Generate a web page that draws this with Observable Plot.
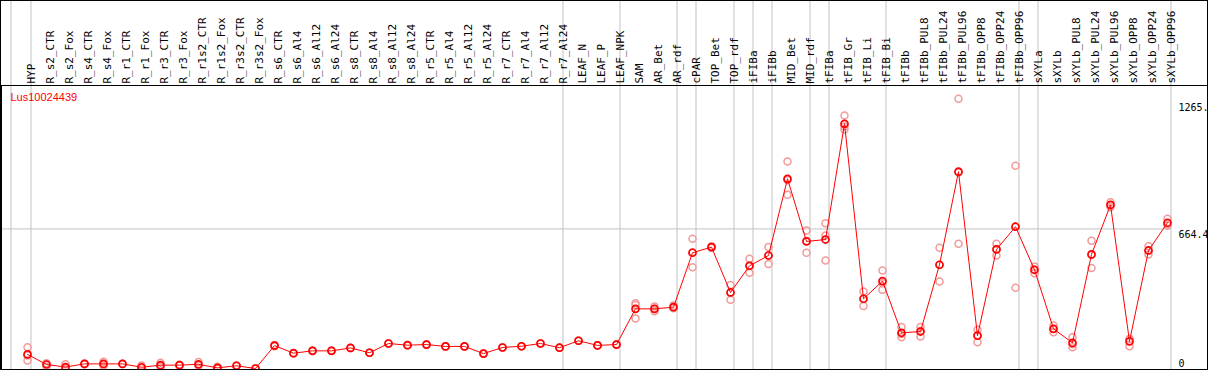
<!DOCTYPE html>
<html>
<head>
<meta charset="utf-8">
<script src="https://cdn.jsdelivr.net/npm/d3@7"></script>
<script src="https://cdn.jsdelivr.net/npm/@observablehq/plot@0.6"></script>
<style>
  html, body { margin: 0; padding: 0; background: #fff; }
  #chart svg { display: block; outline: 1px solid #000; outline-offset: -1px; background: #fff; }
</style>
</head>
<body>
<div id="chart"></div>
<script>
const geneName = "Lus10024439";

const categories = ["HYP","R_s2_CTR","R_s2_Fox","R_s4_CTR","R_s4_Fox","R_r1_CTR","R_r1_Fox","R_r3_CTR","R_r3_Fox","R_r1s2_CTR","R_r1s2_Fox","R_r3s2_CTR","R_r3s2_Fox","R_s6_CTR","R_s6_Al4","R_s6_Al12","R_s6_Al24","R_s8_CTR","R_s8_Al4","R_s8_Al12","R_s8_Al24","R_r5_CTR","R_r5_Al4","R_r5_Al12","R_r5_Al24","R_r7_CTR","R_r7_Al4","R_r7_Al12","R_r7_Al24","LEAF_N","LEAF_P","LEAF_NPK","SAM","AR_Bet","AR_rdf","cPAR","TOP_Bet","TOP_rdf","iFIBa","iFIBb","MID_Bet","MID_rdf","tFIBa","tFIB_Gr","tFIB_Li","tFIB_Bi","tFIBb","tFIBb_PUL8","tFIBb_PUL24","tFIBb_PUL96","tFIBb_OPP8","tFIBb_OPP24","tFIBb_OPP96","sXYLa","sXYLb","sXYLb_PUL8","sXYLb_PUL24","sXYLb_PUL96","sXYLb_OPP8","sXYLb_OPP24","sXYLb_OPP96"];

const meanValues = [67,19,7,22,22,22,6,16,16,20,3,13,0,109,73,84,84,98,75,119,111,114,105,105,71,100,106,119,99,132,110,114,284,284,292,551,578,362,489,538,903,605,614,1165,332,416,170,176,494,937,156,567,675,470,189,122,543,779,129,562,694];

const replicate1 = [101,22,20,24,32,22,14,27,18,31,8,14,0,112,73,84,84,98,75,119,111,114,105,105,71,100,106,119,99,132,110,114,311,295,300,618,582,398,522,578,986,657,692,1205,367,467,197,197,575,1284,184,594,965,486,205,149,608,792,141,582,713];
const replicate2 = [62,25,0,22,13,23,3,8,15,13,1,12,0,106,73,84,84,98,75,119,111,114,105,105,71,100,106,119,99,132,110,114,302,273,287,482,575,327,456,498,827,551,633,1138,297,375,149,152,414,594,125,538,384,454,173,101,479,768,106,543,681];
const replicate3 = [38,10,0,20,21,21,1,13,15,16,0,13,0,109,73,84,84,98,75,119,111,114,105,105,71,100,106,119,99,132,110,114,238,284,289,553,577,361,489,538,896,607,514,1152,332,406,164,179,493,933,159,569,676,470,189,116,542,777,140,561,688];

// last category of each tissue group (separator lines drawn after them)
const groupEnds = ["HYP","R_r7_Al24","LEAF_NPK","AR_rdf","cPAR","TOP_rdf","iFIBa","iFIBb","MID_rdf","tFIBa","tFIB_Bi","tFIBb_OPP96","sXYLa","sXYLb_OPP96"];

const yTickValues = [1265, 664.4];
const yTickLabels = ["1265.", "664.4"];
const yZeroLabel = "0";

const means = categories.map((c, i) => ({cat: c, value: meanValues[i]}));
const reps = categories.flatMap((c, i) => [replicate1[i], replicate2[i], replicate3[i]].map(v => ({cat: c, value: v})));
const ticks = yTickValues.map((v, i) => ({value: v, label: yTickLabels[i]}));

const mono = "DejaVu Sans Mono, monospace";

const chart = Plot.plot({
  width: 1208,
  height: 370,
  marginTop: 85,
  marginBottom: 1,
  marginLeft: 1,
  marginRight: 1,
  x: {type: "point", domain: categories, range: [26.5, 1166.5], padding: 0, axis: null},
  y: {domain: [0, 1265], range: [368, 102.3], axis: null},
  style: {background: "#fff"},
  marks: [
    Plot.ruleX(groupEnds, {x: d => d, dx: 3.5, stroke: "#c3c3c3", strokeWidth: 1, insetTop: -84}),
    Plot.ruleX([categories[0]], {x: d => d, dx: -16.5, stroke: "#c3c3c3", strokeWidth: 1, insetTop: -84}),
    Plot.ruleY([yTickValues[1]], {y: d => d, stroke: "#c3c3c3", strokeWidth: 1, insetRight: 36}),
    Plot.frame({stroke: "#000", strokeWidth: 1}),
    Plot.text(categories, {
      x: d => d, text: d => d, frameAnchor: "top", dy: -2, rotate: -90,
      textAnchor: "start", fontFamily: mono, fontSize: 11, fill: "#000"
    }),
    Plot.text([geneName], {
      frameAnchor: "top-left", text: d => d, dx: 9, dy: 8, textAnchor: "start", lineAnchor: "top",
      fontFamily: "Liberation Sans, Arial, sans-serif", fontSize: 11, fill: "#ff0000"
    }),
    Plot.text(ticks, {
      y: "value", text: "label", frameAnchor: "right", dx: -29, dy: 1.5,
      textAnchor: "start", lineAnchor: "top", fontFamily: mono, fontSize: 10, fill: "#000"
    }),
    Plot.text([yZeroLabel], {
      y: () => 0, text: d => d, frameAnchor: "right", dx: -29, dy: -2,
      textAnchor: "start", lineAnchor: "bottom", fontFamily: mono, fontSize: 10, fill: "#000"
    }),
    Plot.dot(reps, {x: "cat", y: "value", r: 3.5, stroke: "#f29a9a", strokeWidth: 1.5, fill: "none", clip: true}),
    Plot.line(means, {x: "cat", y: "value", stroke: "#ff0000", strokeWidth: 1, clip: true}),
    Plot.dot(means, {x: "cat", y: "value", r: 3.5, stroke: "#ff0000", strokeWidth: 1.7, fill: "none", clip: true})
  ]
});

document.getElementById("chart").appendChild(chart);
</script>
</body>
</html>
